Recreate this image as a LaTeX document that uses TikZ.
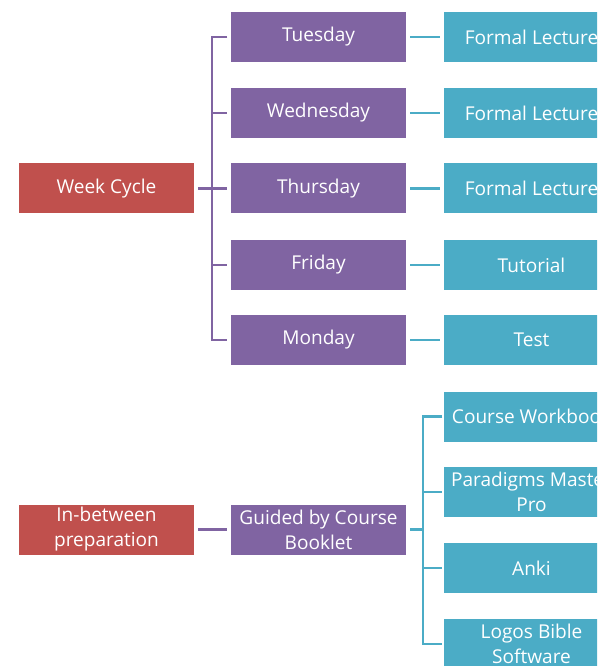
\documentclass[tikz,border=0pt]{standalone}
\usepackage{fontspec}
\setmainfont{Open Sans}
\begin{document}
\begin{tikzpicture}[x=0.75pt,y=-0.75pt,
  box/.style={minimum width=131.25pt,minimum height=37.5pt,inner sep=0pt,
    text=white,align=center,font=\fontsize{14.3pt}{18.75pt}\selectfont},
  redbox/.style={box,fill={rgb,255:red,192;green,80;blue,77}},
  purbox/.style={box,fill={rgb,255:red,128;green,100;blue,162}},
  bluebox/.style={box,fill={rgb,255:red,75;green,172;blue,198}},
  plink/.style={draw={rgb,255:red,128;green,100;blue,162},line width=2pt},
  blink/.style={draw={rgb,255:red,75;green,172;blue,198},line width=2pt}]
\useasboundingbox (0,0) rectangle (597,666);
\clip (0,0) rectangle (597,666);
% left column
\node[redbox] (week) at (106.5,188.5) {Week Cycle};
\node[redbox] (inb) at (106.5,529.5) {In-between\\preparation};
% middle column
\node[purbox] (tue) at (318.5,37) {Tuesday};
\node[purbox] (wed) at (318.5,113) {Wednesday};
\node[purbox] (thu) at (318.5,188.5) {Thursday};
\node[purbox] (fri) at (318.5,265) {Friday};
\node[purbox] (mon) at (318.5,340) {Monday};
\node[purbox] (gui) at (318.5,529.5) {Guided by Course\\Booklet};
% right column
\node[bluebox] (r1) at (531.5,37) {Formal Lecture};
\node[bluebox] (r2) at (531.5,113) {Formal Lecture};
\node[bluebox] (r3) at (531.5,188.5) {Formal Lecture};
\node[bluebox] (r4) at (531.5,265) {Tutorial};
\node[bluebox] (r5) at (531.5,340) {Test};
\node[bluebox] (s1) at (531.5,416.5) {Course Workbook};
\node[bluebox] (s2) at (531.5,492) {Paradigms Master\\Pro};
\node[bluebox] (s3) at (531.5,568) {Anki};
\node[bluebox] (s4) at (531.5,644) {Logos Bible\\Software};
% week cycle bracket
\coordinate (b1) at (212,188.5);
\draw[plink,shorten <=3pt] (week.east) -- (b1);
\draw[plink] ([xshift=-2.5pt]tue.west) -| (b1) |- ([xshift=-2.5pt]mon.west);
\foreach \d in {wed,thu,fri}
  \draw[plink,shorten >=2.5pt] (b1 |- \d) -- (\d.west);
% day to activity
\foreach \a/\b in {tue/r1,wed/r2,thu/r3,fri/r4,mon/r5}
  \draw[blink,shorten <=3pt,shorten >=3pt] (\a.east) -- (\b.west);
% preparation
\draw[plink,shorten <=3pt,shorten >=3pt] (inb.east) -- (gui.west);
\coordinate (b2) at (423,529.5);
\draw[blink,shorten <=3pt] (gui.east) -- (b2);
\draw[blink] ([xshift=-1pt]s1.west) -| (b2) |- ([xshift=-1pt]s4.west);
\foreach \d in {s2,s3}
  \draw[blink,shorten >=1pt] (b2 |- \d) -- (\d.west);
\end{tikzpicture}
\end{document}
